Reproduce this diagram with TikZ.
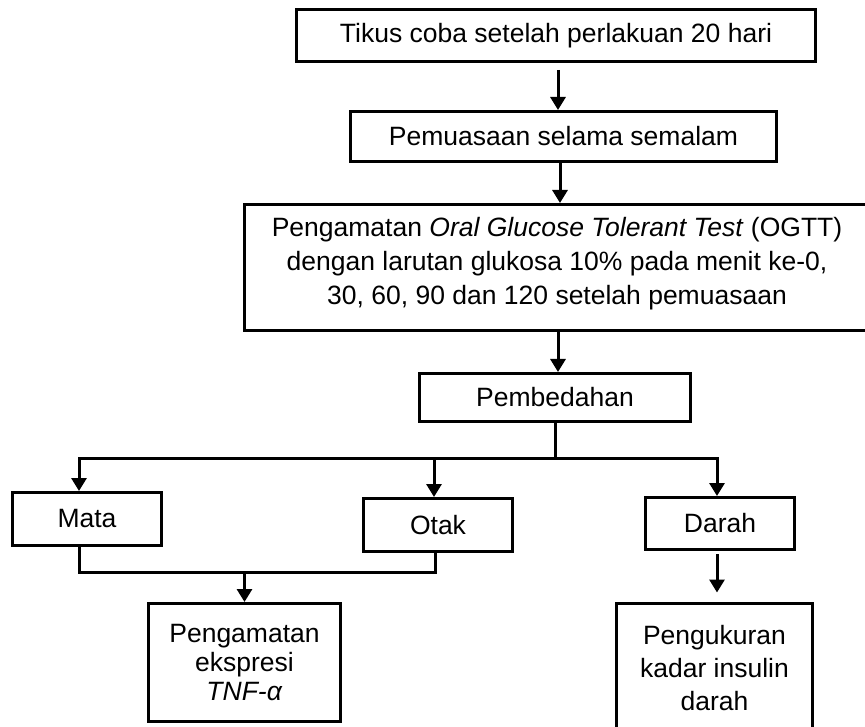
\documentclass[tikz,border=0pt]{standalone}
\usepackage{fontspec}
\setmainfont{Liberation Sans}
\usetikzlibrary{arrows.meta}
\begin{document}
\begin{tikzpicture}[x=1pt,y=-1pt,
  box/.style={draw=black, line width=3pt, rectangle, inner sep=0pt, align=center,
    font=\fontsize{26.5}{33}\selectfont},
  txt/.style={inner sep=0pt, align=center, font=\fontsize{26.5}{34}\selectfont},
  conn/.style={line width=3pt, black},
  arr/.style={conn, -{Triangle[width=15pt,length=13pt]}}]
\useasboundingbox (0,0) rectangle (865,727);

\node[box, minimum width=519pt, minimum height=52pt] (b1) at (556,35.5) {Tikus coba setelah perlakuan 20 hari};
\node[box, minimum width=426pt, minimum height=50pt] (b2) at (563.5,136.5) {Pemuasaan selama semalam};
\node[box, minimum width=623pt, minimum height=126pt] (ogtt) at (556,267.5) {};
\node[txt] (ogtttext) at (557,264) {Pengamatan \textit{Oral Glucose Tolerant Test} (OGTT)\\dengan larutan glukosa 10\% pada menit ke-0,\\30, 60, 90 dan 120 setelah pemuasaan};
\node[box, minimum width=271pt, minimum height=48pt] (pemb) at (555,397.5) {Pembedahan};
\node[box, minimum width=149pt, minimum height=53pt] (mata) at (87,519) {Mata};
\node[box, minimum width=149pt, minimum height=53pt] (otak) at (438,525) {Otak};
\node[box, minimum width=149pt, minimum height=52pt] (darah) at (720,523.5) {Darah};
\node[box, minimum width=192pt, minimum height=118pt, font=\fontsize{26.5}{29}\selectfont] (tnf) at (244.5,662.5) {Pengamatan\\ekspresi\\\textit{TNF-α}};
\node[box, minimum width=196pt, minimum height=130pt] (ins) at (714.5,668) {Pengukuran\\kadar insulin\\darah};

\draw[arr] ([xshift=2pt,yshift=-7pt]b1.south) -- ([xshift=2pt]b1.south |- b2.north);
\draw[arr] ([xshift=-3.5pt]b2.south) -- ([xshift=-3.5pt]b2.south |- ogtt.north);
\draw[arr] ([xshift=3pt]pemb.north |- ogtt.south) -- ([xshift=3pt]pemb.north);

\coordinate (br) at (555,458);
\draw[conn] (pemb.south) -- (br);
\draw[arr] (br) -| ([xshift=-8pt]mata.north);
\draw[arr] (br) -| ([xshift=-3pt]darah.north);
\draw[arr] ([xshift=-4pt]otak.north |- br) -- ([xshift=-4pt]otak.north);

\coordinate (jn) at (244.5,572);
\draw[conn] ([xshift=-8pt]mata.south) |- (jn) -| ([xshift=-3pt]otak.south);
\draw[arr] (jn) -- (tnf.north);

\draw[arr] ([xshift=-3pt,yshift=-3pt]darah.south) -- ([xshift=2.5pt,yshift=9pt]ins.north);
\end{tikzpicture}
\end{document}
